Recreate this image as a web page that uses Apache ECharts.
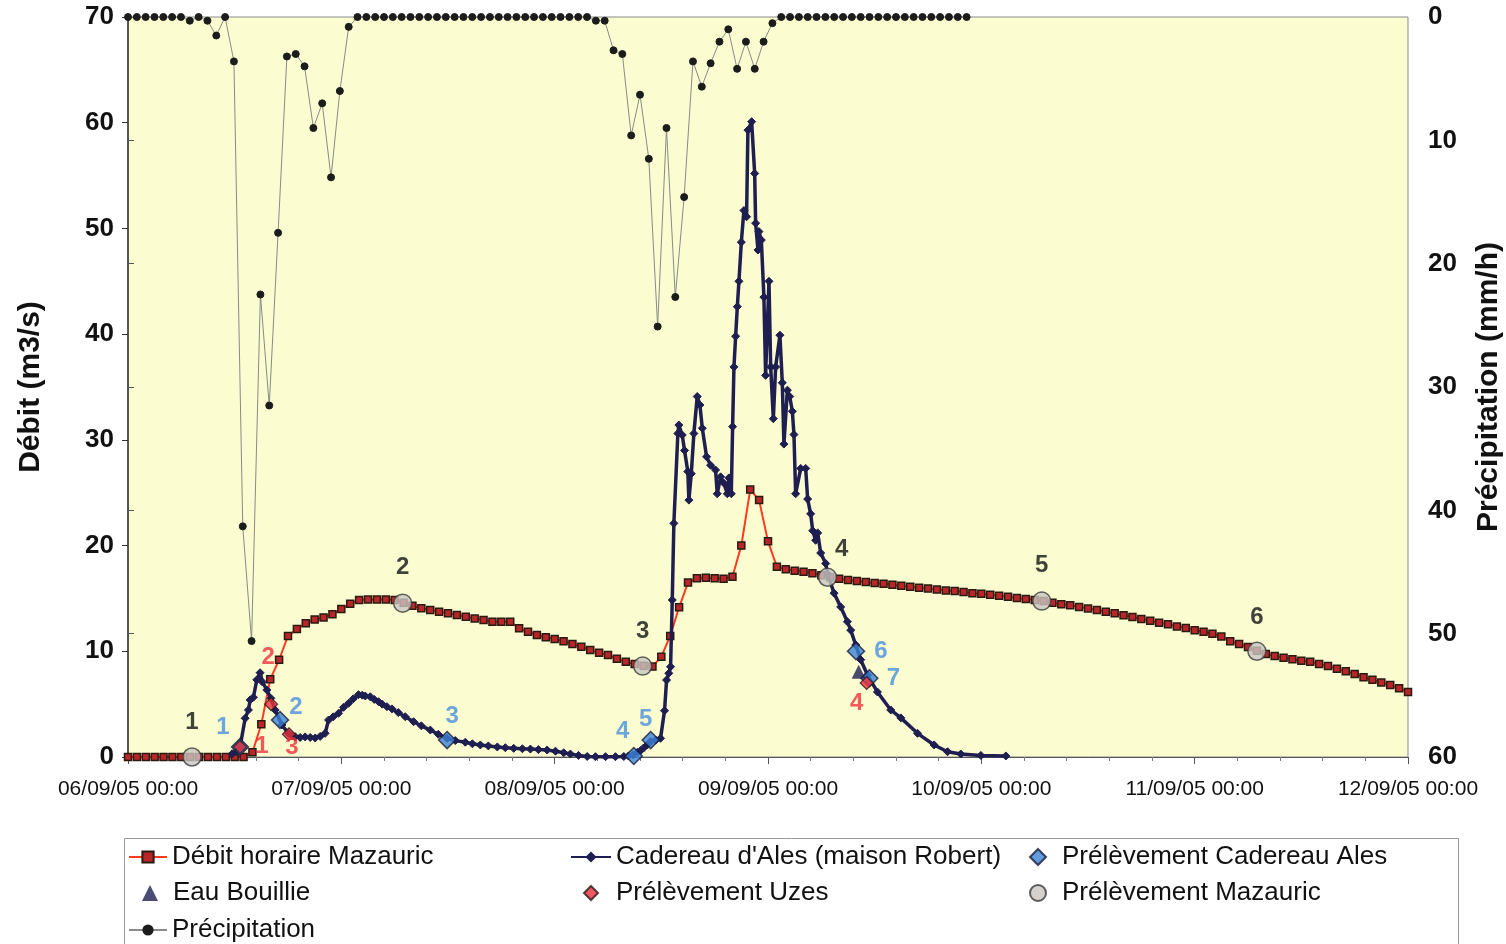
<!DOCTYPE html>
<html>
<head>
<meta charset="utf-8">
<script src="https://cdn.jsdelivr.net/npm/echarts@6/dist/echarts.min.js"></script>
<style>
html,body{margin:0;padding:0;background:#fff;}
#chart{width:1506px;height:944px;}
</style>
</head>
<body>
<div id="chart"></div>
<script>
// ---------------- DATA ----------------
const xTickLabels = ['06/09/05 00:00','07/09/05 00:00','08/09/05 00:00','09/09/05 00:00','10/09/05 00:00','11/09/05 00:00','12/09/05 00:00'];

// Débit horaire Mazauric (m3/s), hourly from 06/09/05 00:00 (hour 0 .. 144)
const mazauric = [
  0,0,0,0,0,0,0,0,0,0,0,0,0,0,
  0.45,3.1,7.35,9.2,11.45,12.1,12.65,13.0,13.2,13.5,14.0,
  14.5,14.85,14.9,14.9,14.9,14.85,14.6,14.3,14.07,13.9,13.75,13.6,13.43,13.27,13.1,12.96,12.8,12.8,12.8,
  12.17,11.85,11.54,11.32,11.16,10.95,10.7,10.43,10.12,9.87,9.65,9.3,9.0,8.8,8.64,8.55,
  9.49,11.45,14.16,16.5,16.9,16.96,16.9,16.85,17.06,20.0,25.3,24.3,20.4,18.0,17.75,17.63,17.53,17.38,17.2,17.0,
  16.85,16.75,16.65,16.55,16.45,16.4,16.3,16.2,16.1,16.0,15.95,15.85,15.75,15.7,15.6,15.5,15.45,15.35,15.25,15.15,
  15.05,14.95,14.85,14.75,14.6,14.45,14.35,14.2,14.05,13.9,13.75,13.6,13.4,13.25,13.05,12.9,12.7,12.55,12.35,12.2,
  12.0,11.85,11.65,11.4,10.95,10.7,10.4,10.05,9.75,9.55,9.4,9.25,9.1,9.0,8.8,8.6,8.35,8.1,7.85,7.55,7.3,7.05,6.8,6.5,6.15
];

// Cadereau d'Ales (maison Robert) : time (hours since 06/09 00:00) and discharge (m3/s)
const cadHours = [
  11.71,12.16,12.61,13.18,13.55,13.74,14.11,14.49,14.86,15.12,15.62,16.07,16.55,17.31,18.05,18.47,18.81,19.37,19.93,20.5,
  21.06,21.62,22.18,22.56,23.09,23.68,24.25,24.81,25.34,25.93,26.35,26.69,27.25,27.7,28.19,28.6,29.13,29.7,30.41,31.19,
  32.13,33.0,34.01,34.91,35.89,36.82,37.95,38.74,39.64,40.54,41.55,42.45,43.39,44.37,45.27,46.17,47.15,48.09,49.02,49.77,
  50.68,51.66,52.59,53.72,54.84,55.78,56.31,56.84,57.32,57.66,58.0,58.41,58.78,59.35,59.91,60.36,60.59,60.84,61.04,61.23,
  61.41,61.86,61.97,62.35,62.61,62.98,63.1,63.37,63.66,64.04,64.34,64.61,65.09,65.54,66.1,66.29,66.67,67.04,67.42,67.6,
  67.87,68.02,68.17,68.36,68.55,68.73,69.0,69.29,69.59,69.74,70.16,70.5,70.61,70.87,70.98,71.25,71.54,71.73,72.11,72.3,
  72.6,72.86,73.34,73.61,73.79,74.18,74.44,74.74,74.92,75.11,75.68,76.24,76.46,76.8,77.03,77.36,77.59,77.93,78.49,78.72,
  79.43,80.18,80.93,81.31,81.87,82.43,83.19,84.31,85.81,86.94,88.82,90.69,92.2,93.69,95.95,98.76
];
const cadValues = [
  0.3,0.5,0.95,3.66,4.45,5.4,5.65,7.3,7.97,7.1,6.34,5.55,4.45,3.03,2.24,2.0,1.92,1.85,1.9,1.85,
  1.8,1.95,2.24,3.5,3.8,4.13,4.7,5.08,5.5,5.9,5.85,5.77,5.7,5.45,5.23,5.0,4.76,4.55,4.2,3.81,
  3.34,2.95,2.55,2.15,1.77,1.55,1.4,1.25,1.14,1.05,0.95,0.88,0.82,0.78,0.75,0.7,0.66,0.55,0.4,0.28,
  0.15,0.05,0.03,0.03,0.03,0.05,0.1,0.2,0.45,0.6,0.85,1.14,1.45,1.6,1.77,4.38,7.28,7.92,8.54,14.85,
  22.1,30.6,31.4,30.46,29.0,27.0,24.3,26.8,30.6,34.1,33.3,31.1,28.4,27.6,27.15,24.9,26.5,25.9,24.9,26.4,
  24.9,31.25,36.9,39.8,42.6,45.0,48.7,51.7,51.1,59.3,60.1,55.2,50.5,47.96,49.7,48.9,43.5,36.1,45.0,36.9,
  32.0,36.9,39.9,35.4,29.6,34.7,34.1,32.7,30.5,24.9,27.3,27.3,24.4,23.0,21.4,20.5,21.2,19.3,18.3,17.3,
  15.5,14.2,12.8,12.0,10.6,9.2,7.75,6.15,4.45,3.7,2.24,1.14,0.5,0.28,0.15,0.1
];

// Précipitation (mm/h), one value per hourly step of the rain gauge record
const precipitation = [
  0,0,0,0,0,0,0,0.3,0,0.3,1.5,0,3.6,41.3,50.6,22.5,31.5,17.5,3.2,3.0,4.0,9.0,7.0,13.0,6.0,0.8,
  0,0,0,0,0,0,0,0,0,0,0,0,0,0,0,0,0,0,0,0,0,0,0,0,0,0,
  0,0.3,0.3,2.7,3.0,9.6,6.3,11.5,25.1,9.0,22.7,14.6,3.6,5.65,3.75,2.0,1.0,4.2,2.0,4.2,2.0,0.5,
  0,0,0,0,0,0,0,0,0,0,0,0,0,0,0,0,0,0,0,0,0,0
];

// Samples (hours, values)
const cadSampleHours = [12.6,17.1,35.9,56.9,58.8,81.9,83.4];
const cadSampleValues = [0.95,3.5,1.6,0.1,1.6,10.0,7.45];
const uzesHours = [12.6,16.1,18.1,83.1];
const uzesValues = [0.95,5.0,2.15,7.0];
const mazSampleHours = [7.2,30.9,57.9,78.7,102.8,127.0];
const mazSampleValues = [0,14.55,8.6,17.0,14.75,10.0];
const eauHours = [82.2];
const eauValues = [8.07];

// ---------------- LAYOUT (not data) ----------------
const cadLabelOffsets = [[-17,-20],[16,-13],[5,-24],[-11,-25],[-5,-21],[25,0],[24,0]];
const uzesLabelOffsets = [[22,-1],[-3,-47],[3,13],[-10,20]];
const mazLabelOffsets = [[0,-35],[0,-36],[0,-35],[14,-28],[0,-36],[0,-34]];

const FONT = '"Liberation Sans", Arial, sans-serif';

function pairs(xs, ys){ return xs.map((x,i)=>[x, ys[i]]); }
function labelled(xs, ys, offs){
  return xs.map((x,i)=>({value:[x, ys[i]], label:{offset: offs[i]}}));
}

// one legend component per entry, placed on a 3-column grid
const ROW = [844, 880, 917];
const legendLayout = [
  {name: 'Débit horaire Mazauric', left: 128, top: ROW[0], w: 38, h: 14, pad: 0},
  {name: "Cadereau d'Ales (maison Robert)", left: 570, top: ROW[0], w: 40, h: 14, pad: 0},
  {name: 'Prélèvement Cadereau Ales', left: 1029, top: ROW[0], w: 16, h: 16, pad: 11},
  {name: 'Eau Bouillie', left: 142, top: ROW[1], w: 16, h: 16, pad: 10},
  {name: 'Prélèvement Uzes', left: 583, top: ROW[1], w: 14, h: 14, pad: 13},
  {name: 'Prélèvement Mazauric', left: 1029, top: ROW[1], w: 16, h: 16, pad: 11},
  {name: 'Précipitation', left: 128, top: ROW[2], w: 38, h: 14, pad: 0}
];
const legends = legendLayout.map(l => ({
  orient: 'horizontal', left: l.left, top: l.top, itemWidth: l.w, itemHeight: l.h, padding: 0,
  textStyle: {fontFamily: FONT, fontSize: 26, color: '#111', padding: [0, 0, 0, l.pad]},
  data: [l.name]
}));

const chart = echarts.init(document.getElementById('chart'), null, {renderer:'canvas'});

const option = {
  animation: false,
  backgroundColor: '#ffffff',
  grid: {left: 128, right: 98, top: 17, bottom: 187, outerBoundsMode: 'none', containLabel: false,
    show: true, backgroundColor: '#FBFCD0', borderColor: '#8a8a8a', borderWidth: 1},
  xAxis: [{
    type: 'value', min: 0, max: 144, interval: 24,
    axisLine: {show: true, onZero: false, lineStyle: {color: '#555', width: 1}},
    axisTick: {show: true, length: 7, lineStyle: {color: '#555'}},
    minorTick: {show: true, splitNumber: 5, length: 4, lineStyle: {color: '#777'}},
    splitLine: {show: false},
    axisLabel: {fontFamily: FONT, fontSize: 21, color: '#111', margin: 22,
      formatter: v => xTickLabels[Math.round(v/24)] || ''}
  },{
    type: 'value', min: 0, max: 145, show: false
  }],
  yAxis: [{
    type: 'value', min: 0, max: 70, interval: 10, position: 'left',
    name: 'Débit (m3/s)', nameLocation: 'middle', nameRotate: 90, nameGap: 82,
    nameTextStyle: {fontFamily: FONT, fontSize: 30, fontWeight: 'bold', color: '#111'},
    axisLine: {show: true, lineStyle: {color: '#333', width: 1.5}},
    axisTick: {show: true, length: 6, lineStyle: {color: '#333'}},
    splitLine: {show: false},
    axisLabel: {fontFamily: FONT, fontSize: 26, fontWeight: 'bold', color: '#111', margin: 14}
  },{
    type: 'value', min: 0, max: 60, interval: 10, position: 'right', inverse: true,
    name: 'Précipitation (mm/h)', nameLocation: 'middle', nameRotate: 90, nameGap: 66,
    nameTextStyle: {fontFamily: FONT, fontSize: 30, fontWeight: 'bold', color: '#111'},
    axisLine: {show: true, lineStyle: {color: '#555', width: 1}},
    axisTick: {show: true, length: 6, lineStyle: {color: '#555'}},
    splitLine: {show: false},
    axisLabel: {fontFamily: FONT, fontSize: 26, fontWeight: 'bold', color: '#111', margin: 20}
  }],
  legend: legends,
  graphic: [{type: 'rect', left: 122, top: 836, shape: {width: 1334, height: 120},
    style: {fill: 'none', stroke: '#9a9a9a', lineWidth: 1}, z: -1}],
  series: [
    {
      name: 'Précipitation', type: 'line', xAxisIndex: 1, yAxisIndex: 1, clip: false,
      data: precipitation.map((v,i)=>[i, v]),
      symbol: 'circle', symbolSize: 7,
      itemStyle: {color: '#1c1c1c', borderColor: '#1c1c1c'},
      lineStyle: {color: '#8a8a8a', width: 1}, z: 2
    },
    {
      name: 'Débit horaire Mazauric', type: 'line', clip: false,
      data: mazauric.map((v,i)=>[i, v]),
      symbol: 'rect', symbolSize: 7,
      itemStyle: {color: '#B8262A', borderColor: '#2a1a10', borderWidth: 1.5},
      lineStyle: {color: '#FF3A1E', width: 2}, z: 3
    },
    {
      name: "Cadereau d'Ales (maison Robert)", type: 'line', clip: false,
      data: pairs(cadHours, cadValues),
      symbol: 'diamond', symbolSize: 8,
      itemStyle: {color: '#1E1E50', borderColor: '#1E1E50'},
      lineStyle: {color: '#1E1E50', width: 3.5}, z: 4
    },
    {
      name: 'Prélèvement Cadereau Ales', type: 'scatter', z: 6,
      data: labelled(cadSampleHours, cadSampleValues, cadLabelOffsets),
      symbol: 'diamond', symbolSize: 17,
      itemStyle: {color: '#3B82D6', borderColor: '#1a1a3a', borderWidth: 1.5},
      label: {show: true, position: 'inside', formatter: p => String(p.dataIndex + 1),
        fontFamily: FONT, fontSize: 24, fontWeight: 'bold', color: '#4A8FE0'}
    },
    {
      name: 'Eau Bouillie', type: 'scatter', z: 6,
      data: pairs(eauHours, eauValues),
      symbol: 'triangle', symbolSize: 14,
      itemStyle: {color: '#1E1E50'}
    },
    {
      name: 'Prélèvement Uzes', type: 'scatter', z: 7,
      data: labelled(uzesHours, uzesValues, uzesLabelOffsets),
      symbol: 'diamond', symbolSize: 13,
      itemStyle: {color: '#E8303A', borderColor: '#2a1a1a', borderWidth: 1.2},
      label: {show: true, position: 'inside', formatter: p => String(p.dataIndex + 1),
        fontFamily: FONT, fontSize: 24, fontWeight: 'bold', color: '#F0303C'}
    },
    {
      name: 'Prélèvement Mazauric', type: 'scatter', z: 6,
      data: labelled(mazSampleHours, mazSampleValues, mazLabelOffsets),
      symbol: 'circle', symbolSize: 18,
      itemStyle: {color: '#C9C5C2', borderColor: '#3a3a3a', borderWidth: 1.5},
      label: {show: true, position: 'inside', formatter: p => String(p.dataIndex + 1),
        fontFamily: FONT, fontSize: 24, fontWeight: 'bold', color: '#111'}
    }
  ]
};
chart.setOption(option);
</script>
</body>
</html>
